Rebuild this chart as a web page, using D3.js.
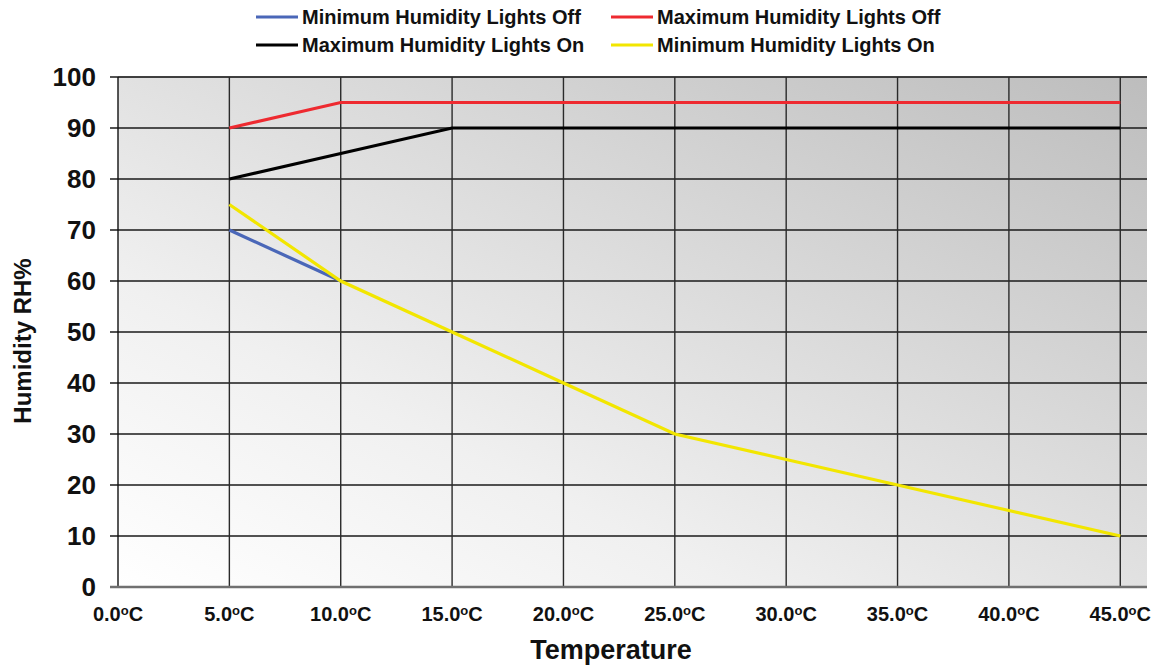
<!DOCTYPE html>
<html>
<head>
<meta charset="utf-8">
<script src="https://cdn.jsdelivr.net/npm/d3@7"></script>
<style>
  body { margin: 0; background: #fff; }
  svg text { font-family: "Liberation Sans", Arial, sans-serif; font-weight: bold; fill: #111; }
</style>
</head>
<body>
<svg id="chart" width="1159" height="665"></svg>
<script>
// temperatures (deg C) and humidity values
var temps = [0, 5, 10, 15, 20, 25, 30, 35, 40, 45];
var yTicks = [0, 10, 20, 30, 40, 50, 60, 70, 80, 90, 100];

var minOffT = [5, 10];
var minOffH = [70, 60];
var maxOffT = [5, 10, 15, 20, 25, 30, 35, 40, 45];
var maxOffH = [90, 95, 95, 95, 95, 95, 95, 95, 95];
var maxOnT = [5, 10, 15, 20, 25, 30, 35, 40, 45];
var maxOnH = [80, 85, 90, 90, 90, 90, 90, 90, 90];
var minOnT = [5, 10, 15, 20, 25, 30, 35, 40, 45];
var minOnH = [75, 60, 50, 40, 30, 25, 20, 15, 10];

var seriesNames = ["Minimum Humidity Lights Off", "Maximum Humidity Lights Off",
                   "Maximum Humidity Lights On", "Minimum Humidity Lights On"];
var seriesColors = ["#4a67b8", "#ee2a30", "#000000", "#f2e600"];

var series = [
    { name: seriesNames[0], color: seriesColors[0], t: minOffT, h: minOffH },
    { name: seriesNames[1], color: seriesColors[1], t: maxOffT, h: maxOffH },
    { name: seriesNames[2], color: seriesColors[2], t: maxOnT, h: maxOnH },
    { name: seriesNames[3], color: seriesColors[3], t: minOnT, h: minOnH }
];

var svg = d3.select("#chart");
var pLeft = 118, pRight = 1147, pTop = 77, pBottom = 587;

// plot area runs a little past the last category
var x = d3.scaleLinear().domain([0, 46.2]).range([pLeft, pRight]);
var y = d3.scaleLinear().domain([0, 100]).range([pBottom, pTop]);

var defs = svg.append("defs");
var grad = defs.append("linearGradient").attr("id", "bg")
    .attr("x1", 0).attr("y1", 1).attr("x2", 1).attr("y2", 0);
grad.append("stop").attr("offset", "0%").attr("stop-color", "#ffffff");
grad.append("stop").attr("offset", "30%").attr("stop-color", "#f0f0f0");
grad.append("stop").attr("offset", "100%").attr("stop-color", "#bdbdbd");

svg.append("rect")
    .attr("x", pLeft).attr("y", pTop)
    .attr("width", pRight - pLeft).attr("height", pBottom - pTop)
    .attr("fill", "url(#bg)");

// top edge
svg.append("line")
    .attr("x1", pLeft).attr("x2", pRight).attr("y1", pTop).attr("y2", pTop)
    .attr("stroke", "#9a9a9a").attr("stroke-width", 1.5);

// horizontal grid + y axis ticks
svg.append("g").selectAll("line").data(yTicks.filter(function (d) { return d > 0; }))
    .enter().append("line")
    .attr("x1", pLeft - 8).attr("x2", pRight)
    .attr("y1", function (d) { return y(d); }).attr("y2", function (d) { return y(d); })
    .attr("stroke", "#1a1a1a").attr("stroke-width", 1.4);

// vertical grid
svg.append("g").selectAll("line").data(temps)
    .enter().append("line")
    .attr("x1", function (d) { return x(d); }).attr("x2", function (d) { return x(d); })
    .attr("y1", pTop).attr("y2", pBottom)
    .attr("stroke", function (d) { return d == 0 ? "#111" : "#2a2a2a"; })
    .attr("stroke-width", 1.4);

// bottom axis line
svg.append("line")
    .attr("x1", pLeft - 8).attr("x2", pRight).attr("y1", pBottom).attr("y2", pBottom)
    .attr("stroke", "#707070").attr("stroke-width", 2.5);

// y tick labels
svg.append("g").selectAll("text").data(yTicks)
    .enter().append("text")
    .attr("x", 96).attr("y", function (d) { return y(d) + 9; })
    .attr("text-anchor", "end")
    .attr("font-size", "26px")
    .text(function (d) { return d; });

// x tick labels
var xl = svg.append("g").selectAll("text").data(temps)
    .enter().append("text")
    .attr("x", function (d) { return x(d); }).attr("y", 621)
    .attr("text-anchor", "middle")
    .attr("font-size", "20px");
xl.append("tspan").text(function (d) { return d.toFixed(1); });
xl.append("tspan").attr("font-size", "13px").attr("dy", -6).text("o");
xl.append("tspan").attr("dy", 6).text("C");

// axis titles
svg.append("text")
    .attr("x", 611).attr("y", 659)
    .attr("text-anchor", "middle").attr("font-size", "27px")
    .text("Temperature");
svg.append("text")
    .attr("transform", "translate(31,341) rotate(-90)")
    .attr("text-anchor", "middle").attr("font-size", "24px")
    .text("Humidity RH%");

// lines
var line = d3.line()
    .x(function (d) { return x(d[0]); })
    .y(function (d) { return y(d[1]); });

svg.append("g").selectAll("path").data(series)
    .enter().append("path")
    .attr("d", function (s) { return line(d3.zip(s.t, s.h)); })
    .attr("fill", "none")
    .attr("stroke", function (s) { return s.color; })
    .attr("stroke-width", 3.2);

// legend
var legendPos = [[256, 17], [611, 17], [256, 45], [611, 45]];
var lg = svg.append("g").selectAll("g").data(series)
    .enter().append("g")
    .attr("transform", function (d, i) { return "translate(" + legendPos[i][0] + "," + legendPos[i][1] + ")"; });
lg.append("line")
    .attr("x1", 0).attr("x2", 42).attr("y1", 0).attr("y2", 0)
    .attr("stroke", function (d) { return d.color; })
    .attr("stroke-width", 3.2);
lg.append("text")
    .attr("x", 46).attr("y", 7)
    .attr("font-size", "20px")
    .text(function (d) { return d.name; });
</script>
</body>
</html>
